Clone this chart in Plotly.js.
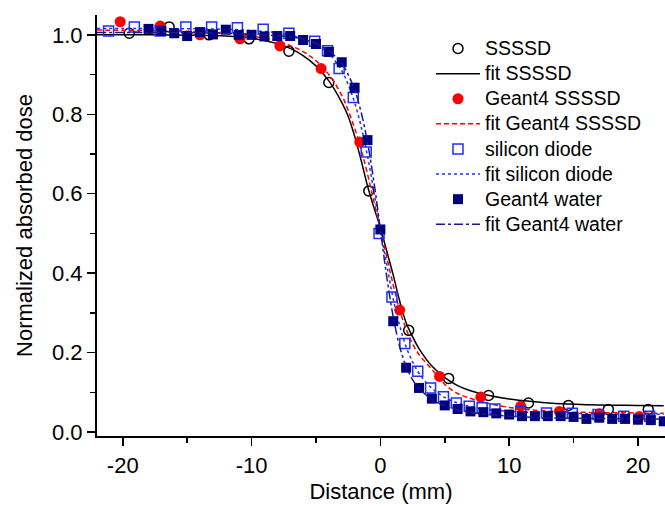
<!DOCTYPE html>
<html>
<head>
<meta charset="utf-8">
<script src="https://cdn.plot.ly/plotly-3.0.1.min.js"></script>
<style>html,body{margin:0;padding:0;background:#fff;}#chart{width:665px;height:509px;}</style>
</head>
<body>
<div id="chart"></div>
<script>
// ---- Data ----
const ssssdX = [-19.5,-16.4,-13.3,-10.2,-7.1,-4.0,-0.9,2.2,5.3,8.4,11.5,14.6,17.7,20.8];
const ssssdY = [1.004,1.02,1.0,0.99,0.959,0.88,0.607,0.256,0.135,0.092,0.073,0.067,0.057,0.057];

const g4ssssdX = [-20.2,-17.1,-14.0,-10.9,-7.8,-4.6,-1.6,1.5,4.6,7.8,10.9,13.9,17.0,20.1];
const g4ssssdY = [1.033,1.022,1.0,0.99,0.972,0.915,0.73,0.307,0.14,0.088,0.065,0.052,0.046,0.039];

const diodeX = [-21.1,-19.1,-17.1,-15.1,-13.1,-11.1,-9.1,-7.1,-5.1,-4.1,-3.2,-2.1,-1.1,-0.1,0.9,1.9,2.9,3.9,4.9,5.9,6.9,7.9,8.9,10.9,12.9,14.9,16.9,18.9,20.9];
const diodeY = [1.01,1.02,1.01,1.02,1.02,1.018,1.014,1.004,0.984,0.96,0.915,0.842,0.705,0.5,0.34,0.223,0.153,0.111,0.089,0.073,0.065,0.061,0.058,0.052,0.048,0.047,0.044,0.04,0.04];

const waterX = [-18,-17,-16,-15,-14,-13,-12,-11,-10,-9,-8,-7,-6,-5,-4,-3,-2,-1,0,1,2,3,4,5,6,7,8,9,10,11,12,13,14,15,16,17,18,19,20,21,22];
const waterY = [1.015,1.01,1.004,0.997,1.007,1.001,1.013,1.0,1.0,0.996,0.997,0.997,0.987,0.977,0.957,0.931,0.867,0.735,0.51,0.279,0.162,0.111,0.084,0.067,0.058,0.052,0.05,0.047,0.044,0.04,0.04,0.04,0.04,0.038,0.033,0.036,0.033,0.033,0.031,0.03,0.027];

// fit curves
const fitX = [-22,-18,-14,-12,-10,-8,-7,-6,-5,-4,-3,-2.5,-2,-1.5,-1,-0.5,0,0.5,1,1.5,2,2.5,3,4,5,6,7,8,10,12,14,17,20,22];
const fitSsssdY = [1.0,1.0,0.999,0.997,0.992,0.978,0.966,0.948,0.922,0.884,0.83,0.795,0.745,0.685,0.62,0.565,0.515,0.455,0.395,0.33,0.275,0.24,0.21,0.166,0.137,0.117,0.104,0.095,0.083,0.076,0.071,0.068,0.067,0.066];
const fitG4ssssdY = [1.012,1.011,1.008,1.004,0.997,0.985,0.973,0.958,0.935,0.9,0.848,0.81,0.765,0.712,0.65,0.58,0.51,0.44,0.37,0.307,0.26,0.222,0.195,0.158,0.12,0.097,0.085,0.075,0.062,0.055,0.051,0.049,0.048,0.047];
const fitDiodeY = [1.016,1.016,1.015,1.014,1.011,1.005,0.999,0.99,0.976,0.953,0.91,0.875,0.83,0.77,0.695,0.605,0.51,0.42,0.335,0.268,0.215,0.177,0.148,0.11,0.087,0.073,0.064,0.058,0.052,0.049,0.047,0.046,0.045,0.045];
const fitWaterY = [1.006,1.006,1.005,1.004,1.002,0.998,0.995,0.989,0.978,0.96,0.928,0.9,0.862,0.806,0.73,0.63,0.51,0.39,0.29,0.215,0.165,0.132,0.11,0.082,0.066,0.056,0.049,0.045,0.04,0.037,0.035,0.034,0.033,0.033];

const seriesNames = ['SSSSD','fit SSSSD','Geant4 SSSSD','fit Geant4 SSSSD','silicon diode','fit silicon diode','Geant4 water','fit Geant4 water'];

const xTickVals = [-20,-10,0,10,20];
const xTickText = ['-20','-10','0','10','20'];
const yTickVals = [0,0.2,0.4,0.6,0.8,1.0];
const yTickText = ['0.0','0.2','0.4','0.6','0.8','1.0'];

const FONT = 'Liberation Sans, Arial, Helvetica, sans-serif';
const legendLabel = (s) => '<span style="font-size:19.5px">' + s + '</span>';

const traces = [
  {x: ssssdX, y: ssssdY, name: legendLabel(seriesNames[0]), mode: 'markers', type: 'scatter',
   marker: {symbol: 'circle-open', size: 10, color: '#000000', line: {width: 1.5}}},
  {x: fitX, y: fitSsssdY, name: legendLabel(seriesNames[1]), mode: 'lines', type: 'scatter',
   line: {color: '#000000', width: 1.5, shape: 'spline'}},
  {x: g4ssssdX, y: g4ssssdY, name: legendLabel(seriesNames[2]), mode: 'markers', type: 'scatter',
   marker: {symbol: 'circle', size: 11, color: '#ff0000'}},
  {x: fitX, y: fitG4ssssdY, name: legendLabel(seriesNames[3]), mode: 'lines', type: 'scatter',
   line: {color: '#ff0000', width: 1.5, dash: '5px,3px', shape: 'spline'}},
  {x: diodeX, y: diodeY, name: legendLabel(seriesNames[4]), mode: 'markers', type: 'scatter',
   marker: {symbol: 'square-open', size: 10, color: '#1f2fff', line: {width: 1.5}}},
  {x: fitX, y: fitDiodeY, name: legendLabel(seriesNames[5]), mode: 'lines', type: 'scatter',
   line: {color: '#1f2fff', width: 1.5, dash: 'dot', shape: 'spline'}},
  {x: waterX, y: waterY, name: legendLabel(seriesNames[6]), mode: 'markers', type: 'scatter',
   marker: {symbol: 'square', size: 10, color: '#00007f'}},
  {x: fitX, y: fitWaterY, name: legendLabel(seriesNames[7]), mode: 'lines', type: 'scatter',
   line: {color: '#1a1a8c', width: 1.5, dash: 'dashdot', shape: 'spline'}}
];

const xRange = [-22, 22.1];
const yRange = [-0.01, 1.05];

const layout = {
  width: 665, height: 509,
  margin: {l: 97, r: 0, t: 15, b: 73, pad: 0},
  paper_bgcolor: '#ffffff', plot_bgcolor: '#ffffff',
  font: {family: FONT, color: '#000000', size: 22},
  showlegend: true,
  legend: {x: 0.588, y: 0.962, xanchor: 'left', yanchor: 'top', bgcolor: 'rgba(0,0,0,0)',
           itemwidth: 44,
           font: {family: FONT, size: 17, color: '#000000'}, borderwidth: 0},
  xaxis: {
    range: xRange, tickmode: 'array', tickvals: xTickVals, ticktext: xTickText,
    ticks: 'outside', ticklen: 8, tickwidth: 1.5, tickcolor: '#000',
    minor: {dtick: 5, tick0: 0, ticks: 'outside', ticklen: 5, tickwidth: 1.5, tickcolor: '#000', showgrid: false},
    showline: true, linewidth: 2, linecolor: '#000', showgrid: false, zeroline: false,
    tickfont: {family: FONT, size: 22}, ticklabelstandoff: 1,
    title: {text: 'Distance (mm)', font: {family: FONT, size: 22}, standoff: 6}
  },
  yaxis: {
    range: yRange, tickmode: 'array', tickvals: yTickVals, ticktext: yTickText,
    ticks: 'outside', ticklen: 8, tickwidth: 1.5, tickcolor: '#000',
    minor: {dtick: 0.1, tick0: 0, ticks: 'outside', ticklen: 5, tickwidth: 1.5, tickcolor: '#000', showgrid: false},
    showline: true, linewidth: 2, linecolor: '#000', showgrid: false, zeroline: false,
    tickfont: {family: FONT, size: 22}, ticklabelstandoff: 0,
    title: {text: 'Normalized absorbed dose', font: {family: FONT, size: 22}, standoff: 13}
  },
  xaxis2: {
    overlaying: 'x', side: 'top', anchor: 'y', range: xRange,
    tickmode: 'array', tickvals: xTickVals, showticklabels: false,
    ticks: 'inside', ticklen: 6, tickwidth: 1.5, tickcolor: '#000',
    minor: {dtick: 5, tick0: 0, ticks: 'inside', ticklen: 5, tickwidth: 1.5, tickcolor: '#000', showgrid: false},
    showline: true, linewidth: 2, linecolor: '#000', showgrid: false, zeroline: false
  },
  yaxis2: {
    overlaying: 'y', side: 'right', anchor: 'x', range: yRange,
    tickmode: 'array', tickvals: yTickVals, showticklabels: false,
    ticks: 'inside', ticklen: 8, tickwidth: 1.5, tickcolor: '#000',
    minor: {dtick: 0.1, tick0: 0, ticks: 'inside', ticklen: 5, tickwidth: 1.5, tickcolor: '#000', showgrid: false},
    showline: false, showgrid: false, zeroline: false
  }
};

Plotly.newPlot('chart', traces, layout, {staticPlot: true, displayModeBar: false});
</script>
</body>
</html>
